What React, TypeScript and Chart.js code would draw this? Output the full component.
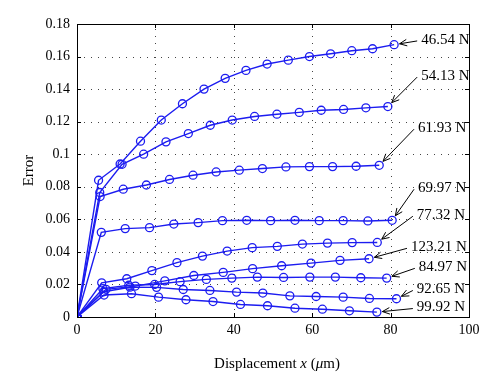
import React, { useEffect, useRef } from "react";
import { Chart, registerables } from "chart.js";

Chart.register(...registerables);

// ---- data ----
const xTicks = [0, 20, 40, 60, 80, 100];
const yTicks = [0, 0.02, 0.04, 0.06, 0.08, 0.1, 0.12, 0.14, 0.16, 0.18];

const seriesNames = ["46.54 N", "54.13 N", "61.93 N", "69.97 N", "77.32 N", "123.21 N", "84.97 N", "92.65 N", "99.92 N"];

const x46 = [0, 5.5, 11, 16.2, 21.5, 26.9, 32.4, 37.8, 43.1, 48.5, 53.9, 59.3, 64.7, 70.1, 75.4, 80.9];
const y46 = [0, 0.084, 0.094, 0.108, 0.121, 0.131, 0.14, 0.1466, 0.1515, 0.1554, 0.1578, 0.16, 0.1617, 0.1636, 0.1648, 0.1673];

const x54 = [0, 5.8, 11.5, 17, 22.7, 28.4, 34, 39.6, 45.3, 51, 56.7, 62.3, 68, 73.7, 79.3];
const y54 = [0, 0.0765, 0.0938, 0.1, 0.1076, 0.1127, 0.1178, 0.121, 0.1232, 0.1246, 0.1257, 0.127, 0.1275, 0.1285, 0.1293];

const x61 = [0, 5.9, 11.8, 17.7, 23.6, 29.6, 35.5, 41.4, 47.3, 53.3, 59.3, 65.2, 71.2, 77.1];
const y61 = [0, 0.074, 0.0785, 0.0811, 0.0845, 0.0871, 0.0891, 0.0902, 0.0912, 0.0922, 0.0924, 0.0924, 0.0926, 0.0932];

const x69 = [0, 6.2, 12.3, 18.5, 24.7, 30.9, 37.1, 43.3, 49.4, 55.6, 61.8, 67.9, 74.2, 80.4];
const y69 = [0, 0.052, 0.0543, 0.0549, 0.0571, 0.058, 0.0592, 0.0594, 0.0592, 0.0594, 0.0592, 0.0592, 0.059, 0.0594];

const x77 = [0, 6.3, 12.7, 19.1, 25.5, 32, 38.3, 44.7, 51.1, 57.5, 63.9, 70.2, 76.6];
const y77 = [0, 0.021, 0.0235, 0.0285, 0.0334, 0.0374, 0.0405, 0.0426, 0.0434, 0.0448, 0.0454, 0.0457, 0.0458];

const x123 = [0, 7.4, 14.9, 22.4, 29.8, 37.3, 44.8, 52.2, 59.7, 67.1, 74.5];
const y123 = [0, 0.017, 0.019, 0.0222, 0.0255, 0.0274, 0.0297, 0.0315, 0.0331, 0.0348, 0.0358];

const x84 = [0, 6.6, 13.2, 19.8, 26.3, 33, 39.5, 46, 52.7, 59.4, 65.9, 72.4, 79];
const y84 = [0, 0.0174, 0.0195, 0.02, 0.0217, 0.0231, 0.0239, 0.0245, 0.0243, 0.0245, 0.0245, 0.0241, 0.0239];

const x92 = [0, 6.8, 13.5, 20.3, 27.1, 33.9, 40.7, 47.4, 54.3, 61, 67.9, 74.6, 81.5];
const y92 = [0, 0.0155, 0.0183, 0.0182, 0.0169, 0.0163, 0.0153, 0.0147, 0.013, 0.0126, 0.0122, 0.0114, 0.0112];

const x99 = [0, 6.9, 13.9, 20.8, 27.8, 34.7, 41.7, 48.6, 55.6, 62.6, 69.5, 76.5];
const y99 = [0, 0.0135, 0.0143, 0.0122, 0.0106, 0.0095, 0.0077, 0.0069, 0.0054, 0.0048, 0.0038, 0.003];

// label text anchor (left edge x, vertical centre y) in data units
const labelX = [87.8, 87.8, 87.0, 87.0, 86.7, 85.2, 87.2, 86.7, 86.7];
const labelY = [0.1702, 0.148, 0.116, 0.0791, 0.0625, 0.0428, 0.0305, 0.0169, 0.0058];

const seriesX = [x46, x54, x61, x69, x77, x123, x84, x92, x99];
const seriesY = [y46, y54, y61, y69, y77, y123, y84, y92, y99];

const BLUE = "#1c1cf0";
const SERIF = "'Liberation Serif', 'DejaVu Serif', serif";

const framePlugin = {
  id: "matlabFrame",
  beforeDatasetsDraw(chart: any) {
    const { ctx, chartArea: a, scales } = chart;
    const xs = scales.x, ys = scales.y;
    ctx.save();
    ctx.strokeStyle = "#444";
    ctx.lineWidth = 1;
    ctx.setLineDash([1, 6]);
    xTicks.slice(1, -1).forEach((v) => {
      const px = Math.round(xs.getPixelForValue(v)) + 0.5;
      ctx.beginPath();
      ctx.moveTo(px, a.bottom);
      ctx.lineTo(px, a.top);
      ctx.stroke();
    });
    yTicks.slice(1, -1).forEach((v) => {
      const py = Math.round(ys.getPixelForValue(v)) + 0.5;
      ctx.beginPath();
      ctx.moveTo(a.left, py);
      ctx.lineTo(a.right, py);
      ctx.stroke();
    });
    ctx.restore();
  },
  afterDraw(chart: any) {
    const { ctx, chartArea: a, scales } = chart;
    const xs = scales.x, ys = scales.y;
    ctx.save();
    // box
    ctx.strokeStyle = "#000";
    ctx.lineWidth = 1;
    ctx.setLineDash([]);
    ctx.strokeRect(Math.round(a.left) + 0.5, Math.round(a.top) + 0.5, Math.round(a.right - a.left), Math.round(a.bottom - a.top));
    // inward ticks
    const tl = 4;
    xTicks.forEach((v) => {
      const px = Math.round(xs.getPixelForValue(v)) + 0.5;
      ctx.beginPath();
      ctx.moveTo(px, a.bottom);
      ctx.lineTo(px, a.bottom - tl);
      ctx.moveTo(px, a.top);
      ctx.lineTo(px, a.top + tl);
      ctx.stroke();
    });
    yTicks.forEach((v) => {
      const py = Math.round(ys.getPixelForValue(v)) + 0.5;
      ctx.beginPath();
      ctx.moveTo(a.left, py);
      ctx.lineTo(a.left + tl, py);
      ctx.moveTo(a.right, py);
      ctx.lineTo(a.right - tl, py);
      ctx.stroke();
    });

    // annotations
    ctx.font = "15px " + SERIF;
    ctx.fillStyle = "#000";
    ctx.textBaseline = "middle";
    ctx.textAlign = "left";
    seriesNames.forEach((name, i) => {
      const tx = xs.getPixelForValue(labelX[i]);
      const ty = ys.getPixelForValue(labelY[i]);
      ctx.fillText(name, tx, ty);
      const xsData = seriesX[i], ysData = seriesY[i];
      const lx = xs.getPixelForValue(xsData[xsData.length - 1]);
      const ly = ys.getPixelForValue(ysData[ysData.length - 1]);
      const tailX = tx - 4, tailY = ty + 1;
      const dx = tailX - lx, dy = tailY - ly;
      const len = Math.hypot(dx, dy);
      const ux = dx / len, uy = dy / len;
      const tipX = lx + ux * 5.5, tipY = ly + uy * 5.5;
      ctx.beginPath();
      ctx.moveTo(tailX, tailY);
      ctx.lineTo(tipX, tipY);
      const ang = Math.atan2(uy, ux);
      const hl = 8, spread = 0.42;
      ctx.moveTo(tipX + hl * Math.cos(ang + spread), tipY + hl * Math.sin(ang + spread));
      ctx.lineTo(tipX, tipY);
      ctx.lineTo(tipX + hl * Math.cos(ang - spread), tipY + hl * Math.sin(ang - spread));
      ctx.stroke();
    });

    // axis titles
    ctx.font = "15px " + SERIF;
    ctx.textBaseline = "alphabetic";
    const parts: [string, boolean][] = [["Displacement ", false], ["x", true], [" (", false], ["\u03bc", true], ["m)", false]];
    let total = 0;
    parts.forEach(([t, it]) => {
      ctx.font = (it ? "italic " : "") + "15px " + SERIF;
      total += ctx.measureText(t).width;
    });
    let cx = (a.left + a.right) / 2 + 4 - total / 2;
    const by = 368;
    parts.forEach(([t, it]) => {
      ctx.font = (it ? "italic " : "") + "15px " + SERIF;
      ctx.fillText(t, cx, by);
      cx += ctx.measureText(t).width;
    });
    ctx.font = "15px " + SERIF;
    ctx.translate(29, (a.top + a.bottom) / 2);
    ctx.rotate(-Math.PI / 2);
    ctx.textAlign = "center";
    ctx.textBaseline = "middle";
    ctx.fillText("Error", 0, 0);
    ctx.restore();
  },
};

export default function App() {
  const ref = useRef<HTMLCanvasElement | null>(null);
  useEffect(() => {
    if (!ref.current) return;
    const datasets = seriesNames.map((name, i) => ({
      label: name,
      data: seriesX[i].map((x, j) => ({ x, y: seriesY[i][j] })),
      showLine: true,
      borderColor: BLUE,
      borderWidth: 1.4,
      pointRadius: 4,
      pointBorderWidth: 1.3,
      pointBorderColor: BLUE,
      pointBackgroundColor: "rgba(0,0,0,0)",
      pointStyle: "circle",
      tension: 0,
    }));
    const chart = new Chart(ref.current, {
      type: "scatter",
      data: { datasets },
      options: {
        animation: false,
        responsive: false,
        devicePixelRatio: 1,
        layout: { padding: { top: 24, right: 31, left: 0, bottom: 0 } },
        plugins: { legend: { display: false }, tooltip: { enabled: false } },
        scales: {
          x: {
            type: "linear",
            min: 0,
            max: 100,
            grid: { display: false, drawTicks: false },
            border: { display: false },
            afterBuildTicks: (s: any) => { s.ticks = xTicks.map((v) => ({ value: v })); },
            afterFit: (s: any) => { s.height = 66; },
            ticks: {
              color: "#000",
              padding: 5,
              maxRotation: 0,
              font: { family: SERIF, size: 14 },
              callback: (v: any) => String(v),
            },
          },
          y: {
            type: "linear",
            min: 0,
            max: 0.18,
            grid: { display: false, drawTicks: false },
            border: { display: false },
            afterBuildTicks: (s: any) => { s.ticks = yTicks.map((v) => ({ value: v })); },
            afterFit: (s: any) => { s.width = 77; },
            ticks: {
              color: "#000",
              padding: 7,
              font: { family: SERIF, size: 14 },
              callback: (v: any) => String(Number(Number(v).toFixed(2))),
            },
          },
        },
      },
      plugins: [framePlugin],
    } as any);
    return () => chart.destroy();
  }, []);
  return (
    <div style={{ position: "absolute", left: 0, top: 0, width: 500, height: 383, background: "#fff" }}>
      <canvas ref={ref} width={500} height={383} style={{ width: 500, height: 383, display: "block" }} />
    </div>
  );
}
